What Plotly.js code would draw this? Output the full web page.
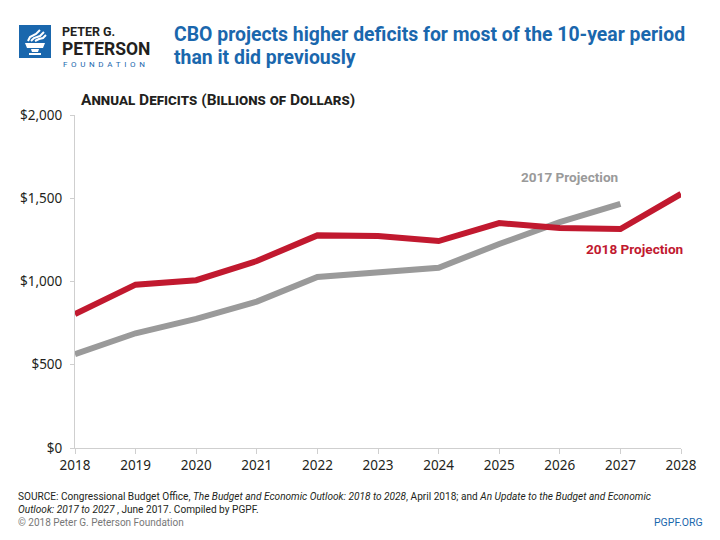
<!DOCTYPE html>
<html>
<head>
<meta charset="utf-8">
<script src="https://cdn.plot.ly/plotly-3.0.1.min.js"></script>
<style>html,body{margin:0;padding:0;background:#fff;}#chart{width:720px;height:540px;}</style>
</head>
<body>
<div id="chart"></div>
<script>
const years = [2018, 2019, 2020, 2021, 2022, 2023, 2024, 2025, 2026, 2027, 2028];
const years2017 = [2018, 2019, 2020, 2021, 2022, 2023, 2024, 2025, 2026, 2027];
const proj2018 = [804, 981, 1008, 1123, 1277, 1273, 1243, 1351, 1321, 1315, 1526];
const proj2017 = [563, 689, 775, 879, 1027, 1057, 1083, 1225, 1357, 1466];
const yTickVals = [0, 500, 1000, 1500, 2000];
const yTickText = ['$0', '$500', '$1,000', '$1,500', '$2,000'];

const W = 720, H = 540;
const M = {l: 75, r: 39, t: 115, b: 92};
const PW = W - M.l - M.r, PH = H - M.t - M.b;
const px = x => (x - M.l) / PW;
const py = y => (H - M.b - y) / PH;

const RED = '#c1192f', GRAY = '#9a9a9a', BLUE = '#1a67ad';
const COND = 'Roboto';

function pathFromPixels(pts, close) {
  return pts.map((p, i) => (i ? 'L' : 'M') + px(p[0]).toFixed(4) + ',' + py(p[1]).toFixed(4)).join(' ') + (close ? ' Z' : '');
}

const traces = [
  {x: years2017, y: proj2017, type: 'scatter', mode: 'lines', name: '2017 Projection',
   line: {color: GRAY, width: 6}, hoverinfo: 'skip'},
  {x: years, y: proj2018, type: 'scatter', mode: 'lines', name: '2018 Projection',
   line: {color: RED, width: 6}, hoverinfo: 'skip'}
];

const shapes = [
  {type: 'rect', xref: 'paper', yref: 'paper', x0: px(19), x1: px(51), y0: py(58), y1: py(25),
   fillcolor: BLUE, line: {width: 0}, layer: 'above'},
  {type: 'path', xref: 'paper', yref: 'paper', layer: 'above', fillcolor: '#fff', line: {width: 0},
   path: pathFromPixels([[25,43],[45,43],[43,48],[27,48]], true)},
  {type: 'path', xref: 'paper', yref: 'paper', layer: 'above', fillcolor: '#fff', line: {width: 0},
   path: pathFromPixels([[31,49],[39,49],[38,52],[32,52]], true)},
  {type: 'path', xref: 'paper', yref: 'paper', layer: 'above', fillcolor: '#fff', line: {width: 0},
   path: pathFromPixels([[29,53],[41,53],[41,55],[29,55]], true)},
  {type: 'path', xref: 'paper', yref: 'paper', layer: 'above', fillcolor: 'rgba(0,0,0,0)', line: {color: '#fff', width: 2},
   path: pathFromPixels([[28,41],[30,37],[36,34],[40,30]], false)},
  {type: 'path', xref: 'paper', yref: 'paper', layer: 'above', fillcolor: 'rgba(0,0,0,0)', line: {color: '#fff', width: 2},
   path: pathFromPixels([[31,41],[34,38],[40,36],[44,32]], false)},
  {type: 'path', xref: 'paper', yref: 'paper', layer: 'above', fillcolor: 'rgba(0,0,0,0)', line: {color: '#fff', width: 2},
   path: pathFromPixels([[35,41],[39,39],[43,38],[46,35]], false)}
];

const A = (text, x, y, opts) => Object.assign({
  text: text, xref: 'paper', yref: 'paper', x: px(x), y: py(y),
  xanchor: 'left', yanchor: 'middle', showarrow: false, align: 'left', borderpad: 0
}, opts || {});

const foundation = 'FOUNDATION'.split('').join('\u2009 ');

const annotations = [
  A('<b>PETER G.</b>', 61, 31.5, {font: {family: 'Roboto', size: 12.5, color: '#231f20'}}),
  A('<b>PETERSON</b>', 61, 49, {font: {family: 'Roboto', size: 17.5, color: '#231f20'}}),
  A(foundation, 62, 64, {font: {family: 'Roboto', size: 8, color: BLUE}}),
  A('<b>CBO projects higher deficits for most of the 10-year period</b>', 173, 34,
    {font: {family: COND, size: 19.4, color: BLUE}}),
  A('<b>than it did previously</b>', 173, 58,
    {font: {family: COND, size: 19.4, color: BLUE}}),
  A('<b>Annual Deficits (Billions of Dollars)</b>', 80, 100,
    {font: {family: COND, size: 15.5, color: '#231f20', variant: 'small-caps'}}),
  A('<b>2017 Projection</b>', 569, 177, {xanchor: 'center', font: {family: 'Roboto', size: 13.6, color: GRAY}}),
  A('<b>2018 Projection</b>', 634, 249, {xanchor: 'center', font: {family: 'Roboto', size: 13.6, color: RED}}),
  A('SOURCE: Congressional Budget Office, <i>The Budget and Economic Outlook: 2018 to 2028</i>, April 2018; and <i>An Update to the Budget and Economic</i><br><i>Outlook: 2017 to 2027</i> , June 2017. Compiled by PGPF.',
    17, 503, {font: {family: COND, size: 10.1, color: '#231f20'}}),
  A('© 2018 Peter G. Peterson Foundation', 17, 522, {font: {family: COND, size: 10, color: '#777'}}),
  A('PGPF.ORG', 704, 522, {xanchor: 'right', font: {family: COND, size: 10.5, color: BLUE}})
];

const layout = {
  width: W, height: H,
  margin: M,
  paper_bgcolor: '#fff', plot_bgcolor: '#fff',
  showlegend: false,
  font: {family: 'Noto Sans', color: '#231f20', size: 13},
  xaxis: {
    range: [2018, 2028], tickvals: years, ticktext: years.map(String),
    showgrid: false, zeroline: false, showline: true, linecolor: '#cfcfcf', linewidth: 1,
    ticks: 'outside', ticklen: 5, tickcolor: '#cfcfcf',
    tickfont: {family: 'Noto Sans', size: 13.5, color: '#231f20'}, fixedrange: true
  },
  yaxis: {
    range: [0, 2000], tickvals: yTickVals, ticktext: yTickText,
    showgrid: false, zeroline: false, showline: true, linecolor: '#cfcfcf', linewidth: 1,
    ticks: 'outside', ticklen: 4, tickcolor: '#cfcfcf', ticklabelstandoff: 5,
    tickfont: {family: 'Noto Sans', size: 13.5, color: '#231f20'}, fixedrange: true
  },
  shapes: shapes,
  annotations: annotations
};

Plotly.newPlot('chart', traces, layout, {displayModeBar: false, staticPlot: true});
</script>
</body>
</html>
